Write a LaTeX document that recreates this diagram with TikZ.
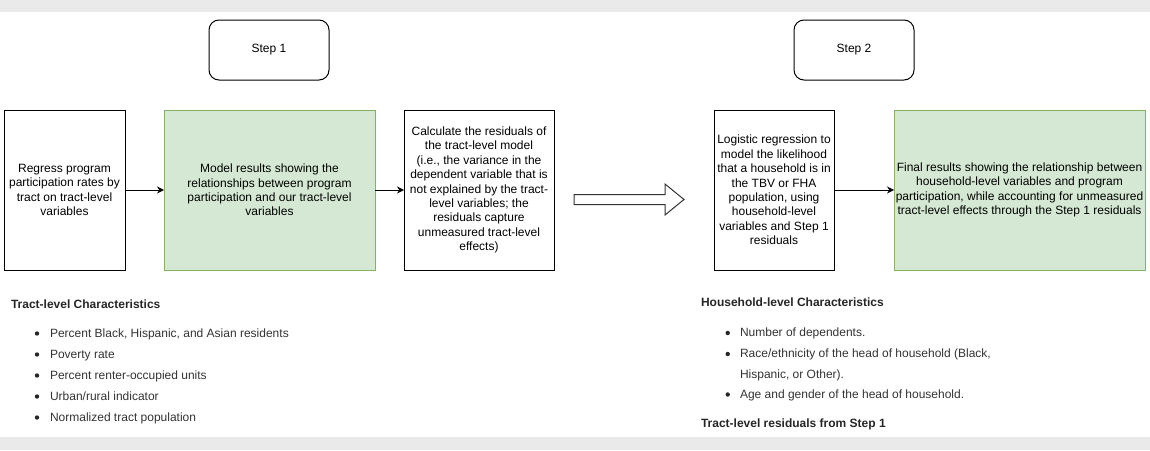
\documentclass[tikz,border=0pt]{standalone}
\usepackage{fontspec}
\setmainfont{Liberation Sans}
\usetikzlibrary{arrows.meta}
\definecolor{bandgray}{RGB}{233,234,233}
\definecolor{greenfill}{RGB}{213,232,212}
\definecolor{greenline}{RGB}{130,179,102}
\definecolor{listtext}{RGB}{51,51,51}
\tikzset{
  x=1pt, y=-1pt,
  every node/.style={font=\fontsize{12}{14.4}\selectfont, inner sep=0pt, outer sep=0pt},
  plainbox/.style={draw=black, line width=1pt, fill=white, align=center},
  greenbox/.style={draw=greenline, line width=1pt, fill=greenfill, align=center},
  stepbox/.style={draw=black, line width=1pt, fill=white, rounded corners=10pt, align=center},
  flowarrow/.style={-{Stealth[length=7pt,width=7pt]}, line width=1pt, black},
  heading/.style={anchor=base west, font=\bfseries\fontsize{12}{14.4}\selectfont, text=black!85},
  listitem/.style={anchor=base west, text=listtext},
  bulletdot/.style={circle, fill=black!85, draw=none, minimum size=4.4pt, inner sep=0pt},
}
\begin{document}
\begin{tikzpicture}
\useasboundingbox (0,0) rectangle (1150,450);
\fill[bandgray] (0,0) rectangle (1150,11.5);
\fill[bandgray] (0,436.5) rectangle (1150,450);

% step labels
\node[stepbox, minimum width=120pt, minimum height=60pt] (s1) at (269,50) {Step 1};
\node[stepbox, minimum width=120pt, minimum height=60pt] (s2) at (854,50) {Step 2};

% step 1 boxes
\node[plainbox, minimum width=121pt, minimum height=160pt] (a) at (64.5,190)
  {Regress program\\participation rates by\\tract on tract-level\\variables};
\node[greenbox, minimum width=211pt, minimum height=160pt] (b) at (269.5,190)
  {Model results showing the\\relationships between program\\participation and our tract-level\\variables};
\node[plainbox, minimum width=150pt, minimum height=160pt] (c) at (479,190)
  {Calculate the residuals of\\the tract-level model\\(i.e., the variance in the\\dependent variable that is\\not explained by the tract-\\level variables; the\\residuals capture\\unmeasured tract-level\\effects)};

% step 2 boxes
\node[plainbox, minimum width=120pt, minimum height=160pt] (d) at (774,190)
  {Logistic regression to\\model the likelihood\\that a household is in\\the TBV or FHA\\population, using\\household-level\\variables and Step 1\\residuals};
\node[greenbox, minimum width=251pt, minimum height=160pt] (e) at (1019.5,190)
  {Final results showing the relationship between\\household-level variables and program\\participation, while accounting for unmeasured\\tract-level effects through the Step 1 residuals};

\draw[flowarrow] (a.east) -- (b.west);
\draw[flowarrow] (b.east) -- (c.west);
\draw[flowarrow] (d.east) -- (e.west);

% big hollow arrow between steps
\coordinate (bigtip) at (684,199.5);
\draw[line width=1pt, draw=black!80, fill=white]
  (574,194.5) -- (665,194.5) -- (665,184) -- (bigtip) -- (665,215) -- (665,204.5) -- (574,204.5) -- cycle;

% tract-level list
\node[heading] (th) at (11,308) {Tract-level Characteristics};
\node[bulletdot] (tb1) at (37,333.5) {};
\node[listitem] (t1) at (50,337) {Percent Black, Hispanic, and Asian residents};
\node[bulletdot] (tb2) at (37,354.5) {};
\node[listitem] (t2) at (50,358) {Poverty rate};
\node[bulletdot] (tb3) at (37,375.5) {};
\node[listitem] (t3) at (50,379) {Percent renter-occupied units};
\node[bulletdot] (tb4) at (37,396.5) {};
\node[listitem] (t4) at (50,400) {Urban/rural indicator};
\node[bulletdot] (tb5) at (37,417.5) {};
\node[listitem] (t5) at (50,421) {Normalized tract population};

% household-level list
\node[heading] (hh) at (701,306.5) {Household-level Characteristics};
\node[bulletdot] (hb1) at (727.7,333) {};
\node[listitem] (h1) at (740,336.5) {Number of dependents.};
\node[bulletdot] (hb2) at (727.7,354) {};
\node[listitem] (h2) at (740,357.5) {Race/ethnicity of the head of household (Black,};
\node[listitem] (h2b) at (740,378) {Hispanic, or Other).};
\node[bulletdot] (hb3) at (727.7,394.5) {};
\node[listitem] (h3) at (740,398) {Age and gender of the head of household.};
\node[heading] (hr) at (701,427) {Tract-level residuals from Step 1};
\end{tikzpicture}
\end{document}
